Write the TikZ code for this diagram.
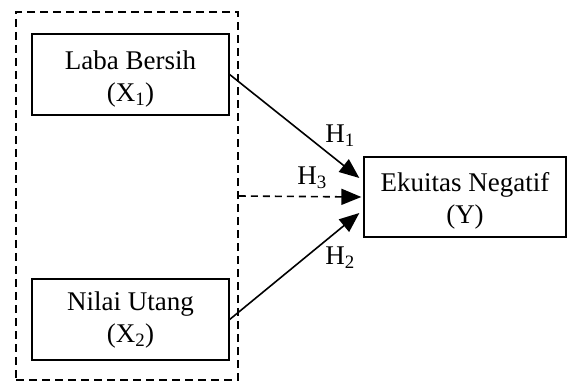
\documentclass[tikz,border=0pt]{standalone}
\usepackage{fontspec}
\setmainfont{Liberation Serif}
\usetikzlibrary{arrows.meta}
\begin{document}
\begin{tikzpicture}[x=1pt,y=-1pt,
  varbox/.style={draw, line width=1.3pt, minimum width=197pt, minimum height=81pt, inner sep=0pt},
  vartext/.style={align=center, inner sep=0pt, font=\fontsize{27}{32}\selectfont},
  grpbox/.style={draw, dashed, dash pattern=on 8pt off 5pt, line width=1.8pt, minimum width=222pt, minimum height=368pt, inner sep=0pt},
  link/.style={line width=1.6pt, -{Triangle[length=20pt,width=16pt]}},
  hlab/.style={font=\fontsize{27}{32}\selectfont, inner sep=0pt}
]
\useasboundingbox (0,0) rectangle (568,385);
\node[grpbox] (grp) at (127,196) {};
\node[varbox, label={[vartext, yshift=-5pt]center:Laba Bersih\\(X\textsubscript{1})}] (x1) at (130.5,74.5) {};
\node[varbox, label={[vartext, yshift=-1pt]center:Nilai Utang\\(X\textsubscript{2})}] (x2) at (130.5,319.5) {};
\node[varbox, minimum width=202pt, minimum height=80pt, label={[vartext, yshift=-4pt]center:Ekuitas Negatif\\(Y)}] (y) at (465,197) {};
\draw[link] (x1.east) -- ([xshift=-4pt,yshift=19pt]y.west);
\draw[link, dashed, dash pattern=on 7pt off 5pt] (grp.east) -- ([xshift=-2pt]y.west);
\draw[link] (x2.east) -- ([xshift=-4pt,yshift=-16pt]y.west);
\node[hlab] (h1) at (340,136) {H\textsubscript{1}};
\node[hlab] (h3) at (312,178) {H\textsubscript{3}};
\node[hlab] (h2) at (340,258) {H\textsubscript{2}};
\end{tikzpicture}
\end{document}
